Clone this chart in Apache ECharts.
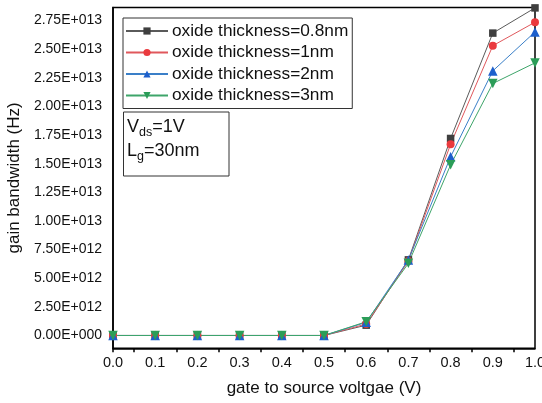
<!DOCTYPE html>
<html>
<head>
<meta charset="utf-8">
<script src="https://cdn.jsdelivr.net/npm/echarts@6/dist/echarts.min.js"></script>
<style>
  html, body { margin: 0; padding: 0; background: #fff; }
  #chart { width: 542px; height: 403px; }
</style>
</head>
<body>
<div id="chart"></div>
<script>
// Gate-source voltage sweep (V)
const vgs = [0.0, 0.1, 0.2, 0.3, 0.4, 0.5, 0.6, 0.7, 0.8, 0.9, 1.0];

// Gain bandwidth (Hz) for each oxide thickness
const gbw08 = [0, 0, 0, 0, 0, 0, 0.90e12, 6.6e12, 17.2e12, 26.4e12, 28.6e12];
const gbw1  = [0, 0, 0, 0, 0, 0, 1.00e12, 6.5e12, 16.7e12, 25.3e12, 27.35e12];
const gbw2  = [0, 0, 0, 0, 0, 0, 1.15e12, 6.6e12, 15.6e12, 23.1e12, 26.5e12];
const gbw3  = [0, 0, 0, 0, 0, 0, 1.20e12, 6.3e12, 14.9e12, 22.0e12, 23.8e12];

const seriesNames = [
  'oxide thickness=0.8nm',
  'oxide thickness=1nm',
  'oxide thickness=2nm',
  'oxide thickness=3nm'
];

// Axis tick labels
const xTicks = [0.0, 0.1, 0.2, 0.3, 0.4, 0.5, 0.6, 0.7, 0.8, 0.9, 1.0];
const xMinorTicks = [0, 0.05, 0.15, 0.25, 0.35, 0.45, 0.55, 0.65, 0.75, 0.85, 0.95];
const yTicks = [0, 2.5e12, 5e12, 7.5e12, 1e13, 1.25e13, 1.5e13, 1.75e13, 2e13, 2.25e13, 2.5e13, 2.75e13];

const FONT = '"Liberation Sans", Arial, sans-serif';

// Origin-style scientific label: 2.75E+013
function sci(v) {
  if (v === 0) return '0.00E+000';
  const e = Math.floor(Math.log10(Math.abs(v)) + 1e-9);
  const m = v / Math.pow(10, e);
  return m.toFixed(2) + 'E+' + String(e).padStart(3, '0');
}

const styles = [
  { line: '#5a5a5a', mark: '#3f3f3f', symbol: 'rect', size: 7.5 },
  { line: '#e0585c', mark: '#ea3a3e', symbol: 'circle', size: 8 },
  { line: '#3a7fc8', mark: '#1d5fcc', symbol: 'triangle', size: 9.5 },
  { line: '#3ea56a', mark: '#2b9d58', symbol: 'triangle', size: 9.5, rotate: 180 }
];
const datasets = [gbw08, gbw1, gbw2, gbw3];

const series = datasets.map((vals, i) => ({
  name: seriesNames[i],
  type: 'line',
  data: vgs.map((x, k) => [x, vals[k]]),
  symbol: styles[i].symbol,
  symbolSize: styles[i].size,
  symbolRotate: styles[i].rotate || 0,
  showAllSymbol: true,
  lineStyle: { color: styles[i].line, width: 1 },
  itemStyle: { color: styles[i].mark },
  emphasis: { disabled: true },
  animation: false
}));

const chart = echarts.init(document.getElementById('chart'), null, { renderer: 'canvas' });

chart.setOption({
  backgroundColor: '#ffffff',
  animation: false,
  grid: {
    left: 113, right: 7, top: 7.5, bottom: 54.7,
    outerBoundsMode: 'none',
    containLabel: false,
    show: true, borderColor: '#000', borderWidth: 1.5, backgroundColor: 'transparent'
  },
  xAxis: {
    type: 'value',
    min: 0, max: 1,
    name: 'gate to source voltgae (V)',
    nameLocation: 'middle',
    nameGap: 32,
    nameTextStyle: { fontFamily: FONT, fontSize: 17, color: '#111' },
    axisLine: { show: true, onZero: false, lineStyle: { color: '#000', width: 1.5 } },
    axisTick: { show: true, inside: false, length: 4, customValues: xMinorTicks, lineStyle: { color: '#000', width: 1.5 } },
    axisLabel: {
      customValues: xTicks,
      formatter: v => v.toFixed(1),
      fontFamily: FONT, fontSize: 14.5, color: '#111', margin: 7,
      hideOverlap: false
    },
    splitLine: { show: false }
  },
  yAxis: {
    type: 'value',
    min: -1.12e12, max: 2.8635e13,
    name: 'gain bandwidth (Hz)',
    nameLocation: 'middle',
    nameGap: 80,
    nameTextStyle: { fontFamily: FONT, fontSize: 17, color: '#111' },
    axisLine: { show: true, onZero: false, lineStyle: { color: '#000', width: 1.5 } },
    axisTick: { show: false },
    axisLabel: {
      customValues: yTicks,
      formatter: v => sci(v),
      fontFamily: FONT, fontSize: 14, color: '#111', margin: 11,
      hideOverlap: false
    },
    splitLine: { show: false }
  },
  legend: {
    data: seriesNames,
    orient: 'vertical',
    left: 123, top: 18,
    width: 229,
    padding: [4, 4, 4, 2],
    itemGap: 3.5,
    itemWidth: 42,
    itemHeight: 9,
    borderColor: '#333',
    borderWidth: 1,
    backgroundColor: '#fff',
    selectedMode: false,
    textStyle: { fontFamily: FONT, fontSize: 17.3, color: '#111', lineHeight: 18, padding: [0, 0, 0, -1] }
  },
  graphic: [
    {
      type: 'rect',
      shape: { x: 123.5, y: 112, width: 105.5, height: 64 },
      style: { fill: '#fff', stroke: '#333', lineWidth: 1 },
      z: 100
    },
    {
      type: 'text',
      x: 127, y: 115,
      z: 101,
      style: {
        text: '{m|V}{s|ds}{m|=1V}\n{m|L}{s|g}{m|=30nm}',
        fontFamily: FONT,
        fill: '#111',
        rich: {
          m: { fontFamily: FONT, fontSize: 18, lineHeight: 24, verticalAlign: 'middle', fill: '#111' },
          s: { fontFamily: FONT, fontSize: 12.5, lineHeight: 13, verticalAlign: 'bottom', fill: '#111' }
        }
      }
    }
  ],
  series: series
});
</script>
</body>
</html>
